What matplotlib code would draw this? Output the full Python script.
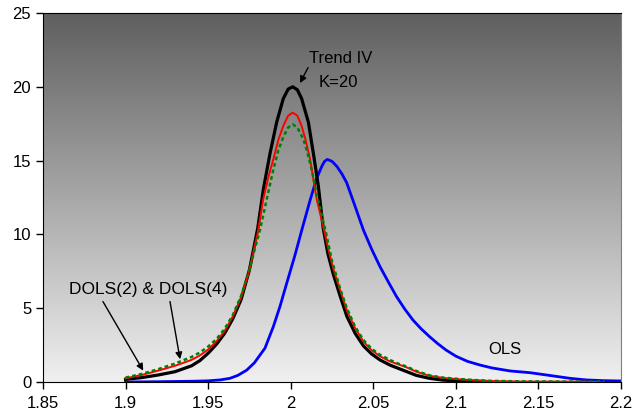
import numpy as np
import matplotlib
matplotlib.use("Agg")
import matplotlib.pyplot as plt
from matplotlib.ticker import FormatStrFormatter, MultipleLocator

plt.rcParams["font.family"] = ["Liberation Sans", "DejaVu Sans"]

# Trend IV, K=20
trend_x = [1.900, 1.910, 1.920, 1.930, 1.940, 1.945, 1.950, 1.955, 1.960, 1.965,
           1.970, 1.975, 1.980, 1.9835, 1.9875, 1.9915, 1.9955, 1.9985, 2.0012,
           2.004, 2.0066, 2.0107, 2.0137, 2.0167, 2.0197, 2.0225, 2.0258, 2.030,
           2.034, 2.039, 2.044, 2.049, 2.054, 2.060, 2.068, 2.076, 2.084, 2.092,
           2.100, 2.110, 2.120]
trend_y = [0.18, 0.30, 0.48, 0.70, 1.10, 1.45, 1.95, 2.55, 3.30, 4.30,
           5.60, 7.60, 10.4, 13.1, 15.5, 17.6, 19.2, 19.85, 20.0,
           19.8, 19.2, 17.6, 15.5, 13.3, 10.4, 8.70, 7.30, 5.80,
           4.45, 3.30, 2.45, 1.90, 1.50, 1.15, 0.80, 0.45, 0.25, 0.13,
           0.08, 0.05, 0.03]

# DOLS(2)
dols2_x = [1.900, 1.910, 1.920, 1.930, 1.940, 1.945, 1.950, 1.955, 1.960, 1.965,
           1.970, 1.975, 1.980, 1.9834, 1.9865, 1.9895, 1.9925, 1.9955, 1.9985,
           2.0012, 2.004, 2.0066, 2.009, 2.0117, 2.014, 2.0157, 2.0202, 2.023,
           2.026, 2.030, 2.034, 2.039, 2.044, 2.049, 2.054, 2.060, 2.065, 2.070,
           2.076, 2.084, 2.092, 2.100, 2.110, 2.120, 2.140, 2.180]
dols2_y = [0.25, 0.48, 0.78, 1.10, 1.50, 1.80, 2.20, 2.75, 3.45, 4.45,
           5.75, 7.60, 10.1, 12.4, 13.9, 15.1, 16.4, 17.35, 18.05,
           18.25, 18.05, 17.35, 16.4, 15.1, 13.55, 12.4, 10.3, 8.90,
           7.60, 6.20, 4.85, 3.65, 2.75, 2.15, 1.75, 1.40, 1.20, 1.00,
           0.70, 0.42, 0.28, 0.20, 0.12, 0.07, 0.03, 0.02]

# DOLS(4)
dols4_x = [1.900, 1.910, 1.920, 1.930, 1.940, 1.945, 1.950, 1.955, 1.960, 1.965,
           1.970, 1.975, 1.978, 1.9814, 1.9855, 1.9895, 1.9925, 1.9955, 1.9985,
           2.0012, 2.004, 2.0076, 2.010, 2.0127, 2.016, 2.0214, 2.025, 2.030,
           2.034, 2.039, 2.044, 2.049, 2.054, 2.060, 2.065, 2.070, 2.076, 2.084,
           2.092, 2.100, 2.110, 2.120, 2.140, 2.190]
dols4_y = [0.30, 0.55, 0.88, 1.25, 1.70, 2.00, 2.40, 2.90, 3.60, 4.55,
           5.85, 7.60, 8.90, 10.3, 12.4, 14.4, 15.7, 16.6, 17.25,
           17.46, 17.25, 16.45, 15.6, 14.4, 12.6, 10.1, 8.20, 6.30,
           5.00, 3.75, 2.85, 2.25, 1.85, 1.50, 1.25, 1.05, 0.75, 0.45,
           0.30, 0.22, 0.14, 0.08, 0.04, 0.02]

# OLS
ols_x = [1.900, 1.920, 1.940, 1.950, 1.9572, 1.9632, 1.968, 1.9733, 1.978, 1.9844,
         1.9895, 1.9935, 1.9976, 2.0026, 2.0066, 2.0117, 2.0157, 2.019, 2.0205,
         2.0222, 2.025, 2.028, 2.031, 2.0339, 2.039, 2.044, 2.049, 2.054,
         2.059, 2.064, 2.069, 2.074, 2.079, 2.084, 2.089, 2.094, 2.100, 2.107,
         2.1146, 2.122, 2.1328, 2.145, 2.159, 2.169, 2.179, 2.190, 2.200]
ols_y = [0.00, 0.02, 0.05, 0.08, 0.14, 0.25, 0.45, 0.80, 1.30, 2.29,
         3.76, 5.12, 6.70, 8.60, 10.25, 12.3, 13.8, 14.65, 14.95,
         15.08, 14.95, 14.6, 14.1, 13.5, 11.9, 10.3, 9.00, 7.83,
         6.80, 5.80, 4.95, 4.20, 3.60, 3.08, 2.60, 2.17, 1.75, 1.40,
         1.15, 0.95, 0.75, 0.63, 0.41, 0.25, 0.14, 0.09, 0.07]

fig = plt.figure(figsize=(6.34, 4.16), dpi=100)
ax = fig.add_axes([43 / 634, 34 / 416, 578 / 634, 369 / 416])

# grey gradient background, dark at the top
grad = np.linspace(0, 1, 256).reshape(-1, 1)
cmap = matplotlib.colors.LinearSegmentedColormap.from_list(
    "bg", ["#f0f0f0", "#5f5f5f"])
ax.imshow(grad, cmap=cmap, origin="lower", aspect="auto",
          extent=[0, 1, 0, 1], transform=ax.transAxes, zorder=0)

ax.plot(ols_x, ols_y, color="#0000ff", lw=2.0, zorder=2)
ax.plot(trend_x, trend_y, color="k", lw=2.3, zorder=3)
ax.plot(dols2_x, dols2_y, color="#ff0000", lw=1.4, zorder=4)
ax.plot(dols4_x, dols4_y, color="#008000", lw=1.8, ls=(0, (1.5, 1.2)), zorder=5)

ax.set_xlim(1.85, 2.2)
ax.set_ylim(0, 25)
ax.xaxis.set_major_locator(MultipleLocator(0.05))
ax.yaxis.set_major_locator(MultipleLocator(5))
ax.xaxis.set_major_formatter(FormatStrFormatter("%g"))
ax.tick_params(direction="out", length=5, width=1, labelsize=12, colors="k")
ax.tick_params(axis="x", pad=5)
for side in ["left", "bottom", "top"]:
    ax.spines[side].set_color("k")
ax.spines["right"].set_color("#808080")
ax.spines["top"].set_linewidth(0.8)

arrow = dict(arrowstyle="-|>", color="k", lw=1.0, mutation_scale=10,
             shrinkA=0, shrinkB=0)
ax.text(2.0305, 21.9, "Trend IV", ha="center", va="center", fontsize=12)
ax.text(2.0286, 20.3, "K=20", ha="center", va="center", fontsize=12)
ax.annotate("", xy=(2.0056, 20.25), xytext=(2.0105, 21.3), arrowprops=arrow)

ax.text(1.9136, 6.25, "DOLS(2) & DOLS(4)", ha="center", va="center",
        fontsize=12.5)
ax.annotate("", xy=(1.9107, 0.77), xytext=(1.8863, 5.45), arrowprops=arrow)
ax.annotate("", xy=(1.933, 1.54), xytext=(1.9269, 5.45), arrowprops=arrow)

ax.text(2.1298, 2.17, "OLS", ha="center", va="center", fontsize=12)

fig.savefig("out.png", dpi=100)
